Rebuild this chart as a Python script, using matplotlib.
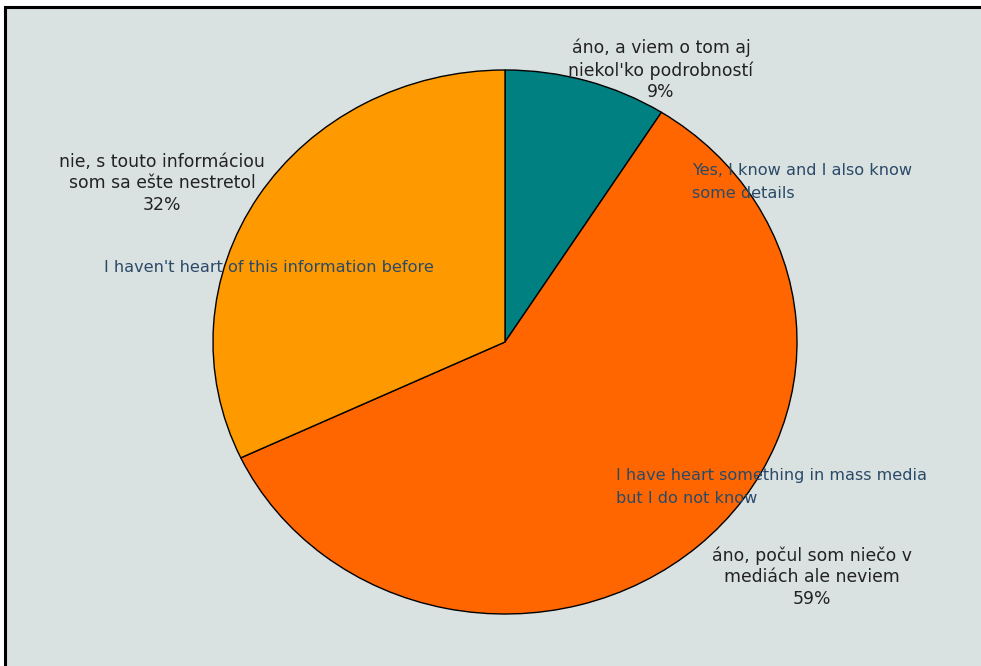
import matplotlib.pyplot as plt
from matplotlib.patches import Rectangle

# Data
shares = [9, 59, 32]
colors = ["#008080", "#ff6600", "#ff9900"]
sk_labels = [
    "áno, a viem o tom aj\nniekol'ko podrobností\n9%",
    "áno, počul som niečo v\nmediách ale neviem\n59%",
    "nie, s touto informáciou\nsom sa ešte nestretol\n32%",
]
en_labels = [
    "Yes, I know and I also know\nsome details",
    "I have heart something in mass media\nbut I do not know",
    "I haven't heart of this information before",
]

plt.rcParams["font.family"] = ["DejaVu Sans"]

W, H = 981, 666
bg = "#dae1e1"
fig = plt.figure(figsize=(W / 100, H / 100), dpi=100)
fig.patch.set_facecolor("white")

# grey panel with black frame (cut off on right and bottom)
fig.patches.append(Rectangle((5 / W, -0.1), 1.2, 1.1 - 7 / H, transform=fig.transFigure,
                             facecolor=bg, edgecolor="black", linewidth=2.2, zorder=-5))

ax = fig.add_axes([0, 0, 1, 1])
ax.set_facecolor("none")
cx, cy, rx, ry = 505, 342, 292, 272
ax.pie(shares, colors=colors, startangle=90, counterclock=False,
       wedgeprops=dict(edgecolor="black", linewidth=1.0))
ax.set_aspect("auto")
ax.set_xlim(-cx / rx, (W - cx) / rx)
ax.set_ylim(-(H - cy) / ry, cy / ry)
ax.axis("off")


def px(x, y):
    return x / W, 1 - y / H


# slovak labels (black, centered)
sk_pos = [(661, 70), (812, 577), (162, 183)]
for txt, (x, y) in zip(sk_labels, sk_pos):
    fig.text(*px(x, y), txt, ha="center", va="center", fontsize=12.4,
             color="#222222", linespacing=1.25)

# english notes (dark blue, left aligned)
en_pos = [(692, 182), (616, 487), (104, 268)]
for txt, (x, y) in zip(en_labels, en_pos):
    fig.text(*px(x, y), txt, ha="left", va="center", fontsize=11.6,
             color="#2a4a68", linespacing=1.62)

fig.savefig("out.png", dpi=100, facecolor=fig.get_facecolor())
